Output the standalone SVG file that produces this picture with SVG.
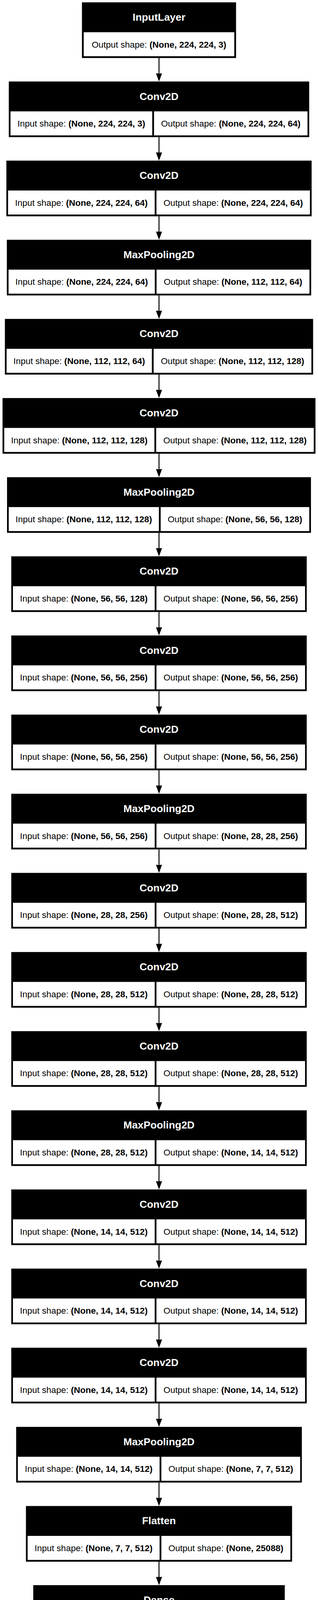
<svg xmlns="http://www.w3.org/2000/svg" width="813" height="4611" viewBox="0 0 813 4611">
<style>
.bg{fill:#fff}
.box{fill:#000}
.cell{fill:#fff}
.hdr{font-family:"Liberation Sans",Arial,Helvetica,sans-serif;font-size:26.4px;font-weight:bold;fill:#fff;text-anchor:middle}
.shp{font-family:"Liberation Sans",Arial,Helvetica,sans-serif;font-size:22.5px;fill:#000;text-anchor:middle}
.b{font-weight:bold}
.edge{stroke:#000;stroke-width:2.5;fill:none;marker-end:url(#arr)}
</style>
<defs>
<marker id="arr" markerUnits="userSpaceOnUse" markerWidth="21" markerHeight="16" viewBox="0 0 21 16" refX="0" refY="8" orient="auto">
<path d="M0,0.2 L21,8 L0,15.8 z" fill="#000"/>
</marker>
</defs>
<rect class="bg" x="0" y="0" width="813" height="4611"/>
<g id="edges">
<line class="edge" x1="406.5" y1="148.5" x2="406.5" y2="187.6"/>
<line class="edge" x1="406.5" y1="351.1" x2="406.5" y2="390.2"/>
<line class="edge" x1="406.5" y1="553.7" x2="406.5" y2="592.8"/>
<line class="edge" x1="406.5" y1="756.3" x2="406.5" y2="795.4"/>
<line class="edge" x1="406.5" y1="958.9" x2="406.5" y2="998"/>
<line class="edge" x1="406.5" y1="1161.5" x2="406.5" y2="1200.6"/>
<line class="edge" x1="406.5" y1="1364.1" x2="406.5" y2="1403.2"/>
<line class="edge" x1="406.5" y1="1566.7" x2="406.5" y2="1605.8"/>
<line class="edge" x1="406.5" y1="1769.3" x2="406.5" y2="1808.4"/>
<line class="edge" x1="406.5" y1="1971.9" x2="406.5" y2="2011"/>
<line class="edge" x1="406.5" y1="2174.5" x2="406.5" y2="2213.6"/>
<line class="edge" x1="406.5" y1="2377.1" x2="406.5" y2="2416.2"/>
<line class="edge" x1="406.5" y1="2579.7" x2="406.5" y2="2618.8"/>
<line class="edge" x1="406.5" y1="2782.3" x2="406.5" y2="2821.4"/>
<line class="edge" x1="406.5" y1="2984.9" x2="406.5" y2="3024"/>
<line class="edge" x1="406.5" y1="3187.5" x2="406.5" y2="3226.6"/>
<line class="edge" x1="406.5" y1="3390.1" x2="406.5" y2="3429.2"/>
<line class="edge" x1="406.5" y1="3592.7" x2="406.5" y2="3631.8"/>
<line class="edge" x1="406.5" y1="3795.3" x2="406.5" y2="3834.4"/>
<line class="edge" x1="406.5" y1="3997.9" x2="406.5" y2="4037"/>
<line class="edge" x1="406.5" y1="4200.5" x2="406.5" y2="4239.6"/>
<line class="edge" x1="406.5" y1="4403.1" x2="406.5" y2="4442.2"/>
</g>

<g id="n0" transform="translate(0,6)">
<rect class="box" x="209.5" y="0" width="394" height="142.5"/>
<text class="hdr" x="406.5" y="47">InputLayer</text>
<rect class="cell" x="214" y="76.5" width="385" height="61.5"/>
<text class="shp" x="406.5" y="115.5">Output shape: <tspan class="b">(None, 224, 224, 3)</tspan></text>
</g>

<g id="n1" transform="translate(0,208.6)">
<rect class="box" x="22.5" y="0" width="768" height="142.5"/>
<text class="hdr" x="406.5" y="47">Conv2D</text>
<rect class="cell" x="26.8" y="76.5" width="362.45" height="61.5"/>
<rect class="cell" x="393.75" y="76.5" width="392.45" height="61.5"/>
<text class="shp" x="208" y="115.5">Input shape: <tspan class="b">(None, 224, 224, 3)</tspan></text>
<text class="shp" x="590" y="115.5">Output shape: <tspan class="b">(None, 224, 224, 64)</tspan></text>
</g>

<g id="n2" transform="translate(0,411.2)">
<rect class="box" x="16.3" y="0" width="780.4" height="142.5"/>
<text class="hdr" x="406.5" y="47">Conv2D</text>
<rect class="cell" x="20.6" y="76.5" width="374.9" height="61.5"/>
<rect class="cell" x="400" y="76.5" width="392.4" height="61.5"/>
<text class="shp" x="208.05" y="115.5">Input shape: <tspan class="b">(None, 224, 224, 64)</tspan></text>
<text class="shp" x="596.2" y="115.5">Output shape: <tspan class="b">(None, 224, 224, 64)</tspan></text>
</g>

<g id="n3" transform="translate(0,613.8)">
<rect class="box" x="17.5" y="0" width="778" height="142.5"/>
<text class="hdr" x="406.5" y="47">MaxPooling2D</text>
<rect class="cell" x="21.8" y="76.5" width="373.95" height="61.5"/>
<rect class="cell" x="400.25" y="76.5" width="390.95" height="61.5"/>
<text class="shp" x="208.8" y="115.5">Input shape: <tspan class="b">(None, 224, 224, 64)</tspan></text>
<text class="shp" x="595.7" y="115.5">Output shape: <tspan class="b">(None, 112, 112, 64)</tspan></text>
</g>

<g id="n4" transform="translate(0,816.4)">
<rect class="box" x="12.5" y="0" width="788" height="142.5"/>
<text class="hdr" x="406.5" y="47">Conv2D</text>
<rect class="cell" x="16.8" y="76.5" width="371.45" height="61.5"/>
<rect class="cell" x="392.75" y="76.5" width="403.45" height="61.5"/>
<text class="shp" x="202.5" y="115.5">Input shape: <tspan class="b">(None, 112, 112, 64)</tspan></text>
<text class="shp" x="594.5" y="115.5">Output shape: <tspan class="b">(None, 112, 112, 128)</tspan></text>
</g>

<g id="n5" transform="translate(0,1019)">
<rect class="box" x="6.5" y="0" width="800" height="142.5"/>
<text class="hdr" x="406.5" y="47">Conv2D</text>
<rect class="cell" x="10.8" y="76.5" width="383.95" height="61.5"/>
<rect class="cell" x="399.25" y="76.5" width="402.95" height="61.5"/>
<text class="shp" x="202.8" y="115.5">Input shape: <tspan class="b">(None, 112, 112, 128)</tspan></text>
<text class="shp" x="600.7" y="115.5">Output shape: <tspan class="b">(None, 112, 112, 128)</tspan></text>
</g>

<g id="n6" transform="translate(0,1221.6)">
<rect class="box" x="18" y="0" width="777" height="142.5"/>
<text class="hdr" x="406.5" y="47">MaxPooling2D</text>
<rect class="cell" x="22.3" y="76.5" width="383.95" height="61.5"/>
<rect class="cell" x="410.75" y="76.5" width="379.95" height="61.5"/>
<text class="shp" x="214.3" y="115.5">Input shape: <tspan class="b">(None, 112, 112, 128)</tspan></text>
<text class="shp" x="600.7" y="115.5">Output shape: <tspan class="b">(None, 56, 56, 128)</tspan></text>
</g>

<g id="n7" transform="translate(0,1424.2)">
<rect class="box" x="28.8" y="0" width="755.4" height="142.5"/>
<text class="hdr" x="406.5" y="47">Conv2D</text>
<rect class="cell" x="33.1" y="76.5" width="362.4" height="61.5"/>
<rect class="cell" x="400" y="76.5" width="379.9" height="61.5"/>
<text class="shp" x="214.3" y="115.5">Input shape: <tspan class="b">(None, 56, 56, 128)</tspan></text>
<text class="shp" x="589.95" y="115.5">Output shape: <tspan class="b">(None, 56, 56, 256)</tspan></text>
</g>

<g id="n8" transform="translate(0,1626.8)">
<rect class="box" x="28.8" y="0" width="755.4" height="142.5"/>
<text class="hdr" x="406.5" y="47">Conv2D</text>
<rect class="cell" x="33.1" y="76.5" width="362.4" height="61.5"/>
<rect class="cell" x="400" y="76.5" width="379.9" height="61.5"/>
<text class="shp" x="214.3" y="115.5">Input shape: <tspan class="b">(None, 56, 56, 256)</tspan></text>
<text class="shp" x="589.95" y="115.5">Output shape: <tspan class="b">(None, 56, 56, 256)</tspan></text>
</g>

<g id="n9" transform="translate(0,1829.4)">
<rect class="box" x="28.8" y="0" width="755.4" height="142.5"/>
<text class="hdr" x="406.5" y="47">Conv2D</text>
<rect class="cell" x="33.1" y="76.5" width="362.4" height="61.5"/>
<rect class="cell" x="400" y="76.5" width="379.9" height="61.5"/>
<text class="shp" x="214.3" y="115.5">Input shape: <tspan class="b">(None, 56, 56, 256)</tspan></text>
<text class="shp" x="589.95" y="115.5">Output shape: <tspan class="b">(None, 56, 56, 256)</tspan></text>
</g>

<g id="n10" transform="translate(0,2032)">
<rect class="box" x="28.8" y="0" width="755.4" height="142.5"/>
<text class="hdr" x="406.5" y="47">MaxPooling2D</text>
<rect class="cell" x="33.1" y="76.5" width="362.4" height="61.5"/>
<rect class="cell" x="400" y="76.5" width="379.9" height="61.5"/>
<text class="shp" x="214.3" y="115.5">Input shape: <tspan class="b">(None, 56, 56, 256)</tspan></text>
<text class="shp" x="589.95" y="115.5">Output shape: <tspan class="b">(None, 28, 28, 256)</tspan></text>
</g>

<g id="n11" transform="translate(0,2234.6)">
<rect class="box" x="28.8" y="0" width="755.4" height="142.5"/>
<text class="hdr" x="406.5" y="47">Conv2D</text>
<rect class="cell" x="33.1" y="76.5" width="362.4" height="61.5"/>
<rect class="cell" x="400" y="76.5" width="379.9" height="61.5"/>
<text class="shp" x="214.3" y="115.5">Input shape: <tspan class="b">(None, 28, 28, 256)</tspan></text>
<text class="shp" x="589.95" y="115.5">Output shape: <tspan class="b">(None, 28, 28, 512)</tspan></text>
</g>

<g id="n12" transform="translate(0,2437.2)">
<rect class="box" x="28.8" y="0" width="755.4" height="142.5"/>
<text class="hdr" x="406.5" y="47">Conv2D</text>
<rect class="cell" x="33.1" y="76.5" width="362.4" height="61.5"/>
<rect class="cell" x="400" y="76.5" width="379.9" height="61.5"/>
<text class="shp" x="214.3" y="115.5">Input shape: <tspan class="b">(None, 28, 28, 512)</tspan></text>
<text class="shp" x="589.95" y="115.5">Output shape: <tspan class="b">(None, 28, 28, 512)</tspan></text>
</g>

<g id="n13" transform="translate(0,2639.8)">
<rect class="box" x="28.8" y="0" width="755.4" height="142.5"/>
<text class="hdr" x="406.5" y="47">Conv2D</text>
<rect class="cell" x="33.1" y="76.5" width="362.4" height="61.5"/>
<rect class="cell" x="400" y="76.5" width="379.9" height="61.5"/>
<text class="shp" x="214.3" y="115.5">Input shape: <tspan class="b">(None, 28, 28, 512)</tspan></text>
<text class="shp" x="589.95" y="115.5">Output shape: <tspan class="b">(None, 28, 28, 512)</tspan></text>
</g>

<g id="n14" transform="translate(0,2842.4)">
<rect class="box" x="28.8" y="0" width="755.4" height="142.5"/>
<text class="hdr" x="406.5" y="47">MaxPooling2D</text>
<rect class="cell" x="33.1" y="76.5" width="362.4" height="61.5"/>
<rect class="cell" x="400" y="76.5" width="379.9" height="61.5"/>
<text class="shp" x="214.3" y="115.5">Input shape: <tspan class="b">(None, 28, 28, 512)</tspan></text>
<text class="shp" x="589.95" y="115.5">Output shape: <tspan class="b">(None, 14, 14, 512)</tspan></text>
</g>

<g id="n15" transform="translate(0,3045)">
<rect class="box" x="28.8" y="0" width="755.4" height="142.5"/>
<text class="hdr" x="406.5" y="47">Conv2D</text>
<rect class="cell" x="33.1" y="76.5" width="362.4" height="61.5"/>
<rect class="cell" x="400" y="76.5" width="379.9" height="61.5"/>
<text class="shp" x="214.3" y="115.5">Input shape: <tspan class="b">(None, 14, 14, 512)</tspan></text>
<text class="shp" x="589.95" y="115.5">Output shape: <tspan class="b">(None, 14, 14, 512)</tspan></text>
</g>

<g id="n16" transform="translate(0,3247.6)">
<rect class="box" x="28.8" y="0" width="755.4" height="142.5"/>
<text class="hdr" x="406.5" y="47">Conv2D</text>
<rect class="cell" x="33.1" y="76.5" width="362.4" height="61.5"/>
<rect class="cell" x="400" y="76.5" width="379.9" height="61.5"/>
<text class="shp" x="214.3" y="115.5">Input shape: <tspan class="b">(None, 14, 14, 512)</tspan></text>
<text class="shp" x="589.95" y="115.5">Output shape: <tspan class="b">(None, 14, 14, 512)</tspan></text>
</g>

<g id="n17" transform="translate(0,3450.2)">
<rect class="box" x="28.8" y="0" width="755.4" height="142.5"/>
<text class="hdr" x="406.5" y="47">Conv2D</text>
<rect class="cell" x="33.1" y="76.5" width="362.4" height="61.5"/>
<rect class="cell" x="400" y="76.5" width="379.9" height="61.5"/>
<text class="shp" x="214.3" y="115.5">Input shape: <tspan class="b">(None, 14, 14, 512)</tspan></text>
<text class="shp" x="589.95" y="115.5">Output shape: <tspan class="b">(None, 14, 14, 512)</tspan></text>
</g>

<g id="n18" transform="translate(0,3652.8)">
<rect class="box" x="41.3" y="0" width="730.4" height="142.5"/>
<text class="hdr" x="406.5" y="47">MaxPooling2D</text>
<rect class="cell" x="45.6" y="76.5" width="362.4" height="61.5"/>
<rect class="cell" x="412.5" y="76.5" width="354.9" height="61.5"/>
<text class="shp" x="226.8" y="115.5">Input shape: <tspan class="b">(None, 14, 14, 512)</tspan></text>
<text class="shp" x="589.95" y="115.5">Output shape: <tspan class="b">(None, 7, 7, 512)</tspan></text>
</g>

<g id="n19" transform="translate(0,3855.4)">
<rect class="box" x="66.3" y="0" width="680.4" height="142.5"/>
<text class="hdr" x="406.5" y="47">Flatten</text>
<rect class="cell" x="70.6" y="76.5" width="337.4" height="61.5"/>
<rect class="cell" x="412.5" y="76.5" width="329.9" height="61.5"/>
<text class="shp" x="239.3" y="115.5">Input shape: <tspan class="b">(None, 7, 7, 512)</tspan></text>
<text class="shp" x="577.45" y="115.5">Output shape: <tspan class="b">(None, 25088)</tspan></text>
</g>

<g id="n20" transform="translate(0,4058)">
<rect class="box" x="85" y="0" width="643" height="142.5"/>
<text class="hdr" x="406.5" y="47">Dense</text>
<rect class="cell" x="89.3" y="76.5" width="312.45" height="61.5"/>
<rect class="cell" x="406.25" y="76.5" width="317.45" height="61.5"/>
<text class="shp" x="245.5" y="115.5">Input shape: <tspan class="b">(None, 25088)</tspan></text>
<text class="shp" x="565" y="115.5">Output shape: <tspan class="b">(None, 4096)</tspan></text>
</g>

<g id="n21" transform="translate(0,4260.6)">
<rect class="box" x="91.3" y="0" width="630.4" height="142.5"/>
<text class="hdr" x="406.5" y="47">Dense</text>
<rect class="cell" x="95.6" y="76.5" width="299.9" height="61.5"/>
<rect class="cell" x="400" y="76.5" width="317.4" height="61.5"/>
<text class="shp" x="245.55" y="115.5">Input shape: <tspan class="b">(None, 4096)</tspan></text>
<text class="shp" x="558.7" y="115.5">Output shape: <tspan class="b">(None, 4096)</tspan></text>
</g>

<g id="n22" transform="translate(0,4463.2)">
<rect class="box" x="91.3" y="0" width="630.4" height="142.5"/>
<text class="hdr" x="406.5" y="47">Dense</text>
<rect class="cell" x="95.6" y="76.5" width="299.9" height="61.5"/>
<rect class="cell" x="400" y="76.5" width="317.4" height="61.5"/>
<text class="shp" x="245.55" y="115.5">Input shape: <tspan class="b">(None, 4096)</tspan></text>
<text class="shp" x="558.7" y="115.5">Output shape: <tspan class="b">(None, 1000)</tspan></text>
</g>
</svg>
